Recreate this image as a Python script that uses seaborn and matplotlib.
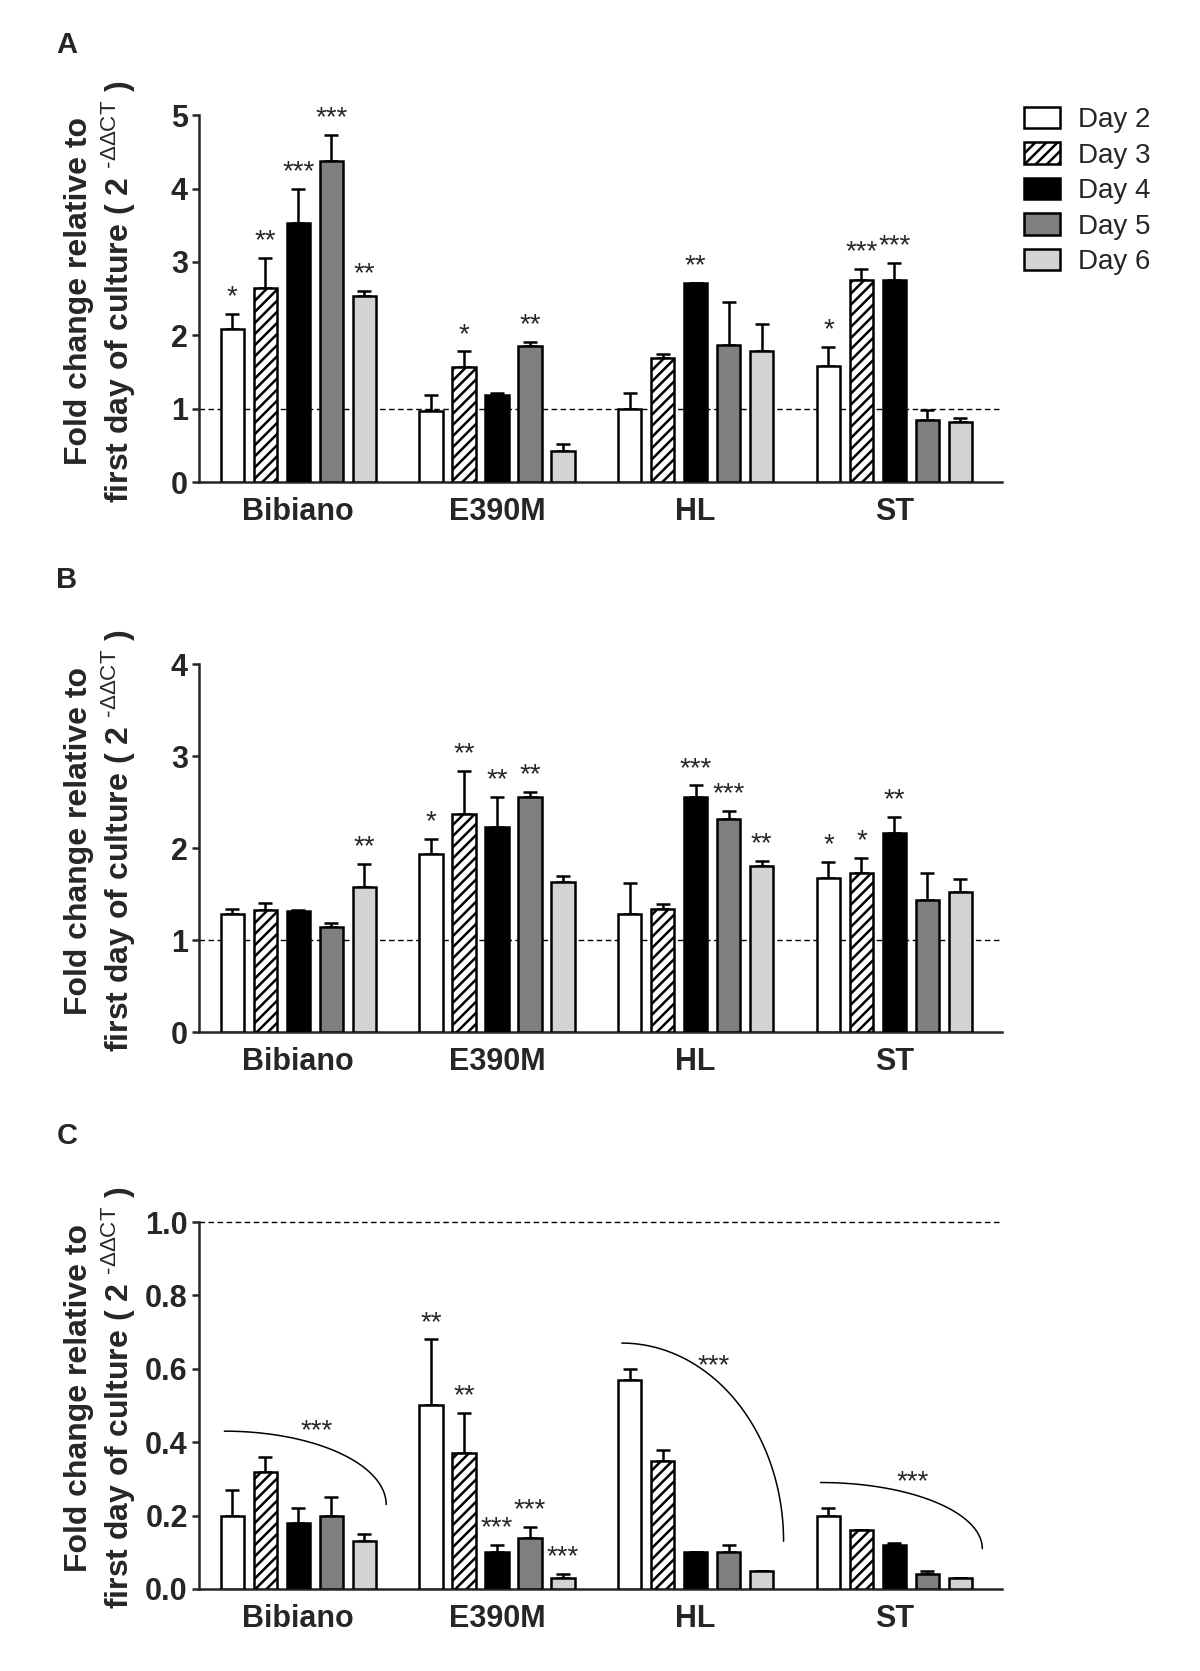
import numpy as np
import pandas as pd
import matplotlib
matplotlib.use('Agg')
import matplotlib.pyplot as plt
from matplotlib.patches import Patch
import seaborn as sns

strains = ['Bibiano', 'E390M', 'HL', 'ST']
days = ['Day 2', 'Day 3', 'Day 4', 'Day 5', 'Day 6']
day_colors = ['white', 'white', 'black', '#7f7f7f', '#d3d3d3']
day_hatch = ['', '///', '', '', '']

# rows = strains, columns = days
a_mean = [[2.08, 2.65, 3.53, 4.38, 2.53],
          [0.97, 1.57, 1.18, 1.85, 0.43],
          [0.99, 1.69, 2.71, 1.87, 1.78],
          [1.58, 2.76, 2.76, 0.84, 0.82]]
a_err = [[0.21, 0.40, 0.46, 0.35, 0.07],
         [0.22, 0.21, 0.04, 0.06, 0.09],
         [0.23, 0.05, 0.00, 0.58, 0.37],
         [0.26, 0.14, 0.22, 0.14, 0.06]]
a_stars = [['*', '**', '***', '***', '**'],
           ['', '*', '', '**', ''],
           ['', '', '**', '', ''],
           ['*', '***', '***', '', '']]

b_mean = [[1.28, 1.33, 1.32, 1.14, 1.58],
          [1.94, 2.37, 2.23, 2.55, 1.63],
          [1.28, 1.34, 2.55, 2.32, 1.80],
          [1.67, 1.73, 2.16, 1.43, 1.52]]
b_err = [[0.06, 0.07, 0.01, 0.04, 0.25],
         [0.16, 0.47, 0.33, 0.06, 0.07],
         [0.34, 0.05, 0.13, 0.08, 0.06],
         [0.18, 0.16, 0.18, 0.30, 0.14]]
b_stars = [['', '', '', '', '**'],
           ['*', '**', '**', '**', ''],
           ['', '', '***', '***', '**'],
           ['*', '*', '**', '', '']]

c_mean = [[0.20, 0.32, 0.18, 0.20, 0.13],
          [0.50, 0.37, 0.10, 0.14, 0.03],
          [0.57, 0.35, 0.10, 0.10, 0.05],
          [0.20, 0.16, 0.12, 0.04, 0.03]]
c_err = [[0.07, 0.04, 0.04, 0.05, 0.02],
         [0.18, 0.11, 0.02, 0.03, 0.01],
         [0.03, 0.03, 0.00, 0.02, 0.00],
         [0.02, 0.00, 0.005, 0.01, 0.00]]
c_stars = [['', '', '', '', ''],
           ['**', '**', '***', '***', '***'],
           ['', '', '', '', ''],
           ['', '', '', '', '']]
c_trend = ['***', '', '***', '***']  # decreasing trend over the days

sns.set_style('ticks')
plt.rcParams['font.family'] = ['Liberation Sans', 'DejaVu Sans']
plt.rcParams['mathtext.fontset'] = 'custom'
plt.rcParams['mathtext.rm'] = 'Liberation Sans'
plt.rcParams['mathtext.it'] = 'Liberation Sans:italic'
plt.rcParams['mathtext.bf'] = 'Liberation Sans:bold'
plt.rcParams['hatch.linewidth'] = 1.8
plt.rcParams['hatch.color'] = 'black'

ylab = 'Fold change relative to\nfirst day of culture ( 2 $^{\\mathrm{\u2010\u0394\u0394CT}}$ )'


def draw_panel(ax, mean, err, stars, ymax, yticks, fmt):
    df = pd.DataFrame([(s, d, mean[i][j]) for i, s in enumerate(strains)
                       for j, d in enumerate(days)], columns=['strain', 'day', 'fold'])
    ax.axhline(1.0, color='black', lw=1.0, ls=(0, (4, 2.5)), zorder=0, clip_on=False)
    sns.barplot(data=df, x='strain', y='fold', hue='day', order=strains, hue_order=days,
                palette=dict(zip(days, day_colors)), saturation=1, edgecolor='black',
                linewidth=1.8, width=0.83, gap=0.29, errorbar=None, legend=False,
                ax=ax, zorder=3)
    bar_conts = list(ax.containers)
    centers = []
    for j, cont in enumerate(bar_conts):
        xs = [p.get_x() + p.get_width() / 2 for p in cont]
        hs = [p.get_height() for p in cont]
        for p in cont:
            p.set_hatch(day_hatch[j])
        e = [err[i][j] for i in range(len(strains))]
        ax.errorbar(xs, hs, yerr=[np.zeros(len(e)), e], fmt='none', ecolor='black',
                    elinewidth=1.8, capsize=5, capthick=1.8, zorder=2)
        for i in range(len(strains)):
            if stars[i][j]:
                ax.annotate(stars[i][j], xy=(xs[i], hs[i] + e[i]), xytext=(0, 7),
                            textcoords='offset points', ha='center', va='baseline',
                            fontsize=20)
        centers.append(xs)
    ax.set_xlim(-0.5, 3.54)
    ax.set_ylim(0, ymax)
    ax.set_yticks(yticks)
    ax.set_yticklabels([fmt.format(t) for t in yticks], fontweight='bold')
    ax.set_xticks(range(len(strains)))
    ax.set_xticklabels(strains, fontweight='bold')
    ax.tick_params(axis='y', length=5, width=1.8, labelsize=22, pad=3)
    ax.tick_params(axis='x', length=0, labelsize=22, pad=11)
    ax.set_xlabel('')
    ax.set_ylabel(ylab, fontsize=23, fontweight='bold')
    ax.yaxis.set_label_coords(-0.076, 0.52)
    sns.despine(ax=ax)
    for sp in ['left', 'bottom']:
        ax.spines[sp].set_linewidth(1.8)
    return centers


fig = plt.figure(figsize=(12, 16.71), dpi=100)
ax_a = fig.add_axes([0.1658, 0.7115, 0.669, 0.2196])
ax_b = fig.add_axes([0.1658, 0.3824, 0.669, 0.2202])
ax_c = fig.add_axes([0.1658, 0.0491, 0.669, 0.2196])

draw_panel(ax_a, a_mean, a_err, a_stars, 5, [0, 1, 2, 3, 4, 5], '{:.0f}')
draw_panel(ax_b, b_mean, b_err, b_stars, 4, [0, 1, 2, 3, 4], '{:.0f}')
xs_c = draw_panel(ax_c, c_mean, c_err, c_stars, 1.0, [0, 0.2, 0.4, 0.6, 0.8, 1.0], '{:.1f}')

# trend arcs in panel C
for i, s in enumerate(c_trend):
    if not s:
        continue
    x0 = xs_c[0][i] - 0.04
    x1 = xs_c[4][i] + 0.11
    y0 = max(m + e for m, e in zip(c_mean[i], c_err[i])) + 0.07
    y1 = c_mean[i][4] + c_err[i][4] + 0.08
    t = np.linspace(np.pi / 2, 0, 100)
    ax_c.plot(x0 + (x1 - x0) * np.cos(t), y1 + (y0 - y1) * np.sin(t), color='black', lw=1.1)
    f = 0.57
    ax_c.annotate(s, xy=(x0 + (x1 - x0) * f, y1 + (y0 - y1) * np.sqrt(1 - f ** 2)),
                  xytext=(0, 4), textcoords='offset points', ha='center', va='baseline',
                  fontsize=20)

handles = [Patch(facecolor=c, edgecolor='black', hatch=h, linewidth=1.8)
           for c, h in zip(day_colors, day_hatch)]
fig.legend(handles, days, loc='upper left', bbox_to_anchor=(1024 / 1200, 1 - 107 / 1671),
           frameon=False, fontsize=20, handlelength=1.3, handleheight=0.8,
           handletextpad=0.65, labelspacing=0.33, borderpad=0, borderaxespad=0)

for lab, yy in zip(['A', 'B', 'C'], [45, 580, 1136]):
    fig.text(67 / 1200, 1 - yy / 1671, lab, fontsize=21, fontweight='bold',
             ha='center', va='center')

fig.savefig('out.png', dpi=100)
